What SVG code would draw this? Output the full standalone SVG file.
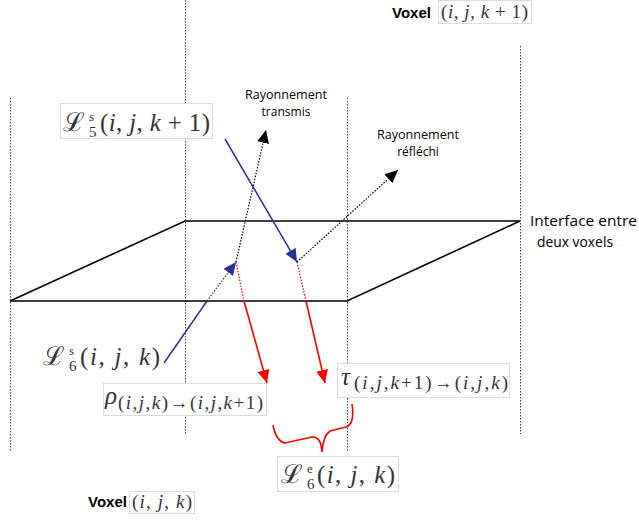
<svg xmlns="http://www.w3.org/2000/svg" width="639" height="522" viewBox="0 0 639 522">
<style>
.vline{stroke:#444;stroke-width:1;stroke-dasharray:1.5,1.5;fill:none}
.plane{stroke:#000;stroke-width:1.6;fill:none}
.blue{stroke:#2e3192;stroke-width:1.5;fill:none}
.bluedot{stroke:#2e3192;stroke-width:1.2;stroke-dasharray:1.5,1.5;fill:none}
.red{stroke:#ff0000;stroke-width:1.6;fill:none}
.reddot{stroke:#ff0000;stroke-width:1.2;stroke-dasharray:1.5,1.5;fill:none}
.blackdot{stroke:#000;stroke-width:1.2;stroke-dasharray:1.5,1.5;fill:none}
.box{fill:#fff;stroke:#dcdcdc;stroke-width:1}
.lbl{font-family:"Open Sans","Liberation Sans",sans-serif;fill:#000}
.vox{font-family:"Liberation Sans",Arial,sans-serif;font-weight:bold;fill:#000}
.math{font-family:"Liberation Serif","DejaVu Serif",serif;fill:#333;font-weight:normal}
.it{font-style:italic}
</style>
<defs>
<marker id="ahBlack" markerUnits="userSpaceOnUse" markerWidth="14" markerHeight="12" refX="13" refY="6" orient="auto"><path d="M0,0 L13,6 L0,12 z" fill="#000"/></marker>
<marker id="ahBlue" markerUnits="userSpaceOnUse" markerWidth="14" markerHeight="12" refX="13" refY="6" orient="auto"><path d="M0,0 L13,6 L0,12 z" fill="#2e3192"/></marker>
<marker id="ahRed" markerUnits="userSpaceOnUse" markerWidth="14" markerHeight="12" refX="13" refY="6" orient="auto"><path d="M0,0 L13,6 L0,12 z" fill="#ff0000"/></marker>
</defs>
<rect width="639" height="522" fill="#fff"/>

<g id="voxel-boundaries">
<line class="vline" x1="10.5" y1="98" x2="10.5" y2="452"/>
<line class="vline" x1="185.5" y1="0" x2="185.5" y2="434"/>
<line class="vline" x1="347.5" y1="98" x2="347.5" y2="452"/>
<line class="vline" x1="520.5" y1="46" x2="520.5" y2="434"/>
</g>

<g id="interface">
<path class="plane" d="M10,301 L185,221 L520,221 L347,301 Z"/>
<text class="lbl" font-size="14" x="530" y="226" textLength="107" lengthAdjust="spacingAndGlyphs">Interface entre</text>
<text class="lbl" font-size="14" x="537" y="247" textLength="76" lengthAdjust="spacingAndGlyphs">deux voxels</text>
</g>

<g id="connectors">
<line class="blue" x1="225" y1="139" x2="297" y2="262" marker-end="url(#ahBlue)"/>
<line class="blue" x1="164" y1="363" x2="207" y2="301"/>
<line class="bluedot" x1="207" y1="301" x2="236" y2="262" marker-end="url(#ahBlue)"/>
<line class="blackdot" x1="236" y1="262" x2="266" y2="130" marker-end="url(#ahBlack)"/>
<line class="blackdot" x1="297" y1="262" x2="398" y2="170" marker-end="url(#ahBlack)"/>
<line class="reddot" x1="236" y1="262" x2="244" y2="301"/>
<line class="red" x1="244" y1="301" x2="267" y2="383" marker-end="url(#ahRed)"/>
<line class="reddot" x1="297" y1="262" x2="306" y2="301"/>
<line class="red" x1="306" y1="301" x2="325" y2="383" marker-end="url(#ahRed)"/>
<path class="red" d="M273,425 Q276,441 285,443 L312,437 Q321,436 322,452 Q323,436 330,431 L346,427 Q355,424 352,404"/>
</g>

<g id="label-transmis">
<text class="lbl" font-size="12" x="286" y="99" text-anchor="middle" textLength="82" lengthAdjust="spacingAndGlyphs">Rayonnement</text>
<text class="lbl" font-size="12" x="286" y="116" text-anchor="middle">transmis</text>
</g>

<g id="label-reflechi">
<text class="lbl" font-size="12" x="418" y="139" text-anchor="middle" textLength="82" lengthAdjust="spacingAndGlyphs">Rayonnement</text>
<text class="lbl" font-size="12" x="418" y="156" text-anchor="middle">réfléchi</text>
</g>

<g id="voxel-top">
<text class="vox" font-size="15" x="392" y="18">Voxel</text>
<rect class="box" x="438.5" y="0.5" width="93" height="23"/>
<text class="math" font-size="19" x="441" y="18" textLength="87" lengthAdjust="spacing">(<tspan class="it">i</tspan>, <tspan class="it">j</tspan>, <tspan class="it">k</tspan> + 1)</text>
</g>

<g id="voxel-bottom">
<text class="vox" font-size="15" x="88" y="507">Voxel</text>
<rect class="box" x="129.5" y="491.5" width="65" height="22"/>
<text class="math" font-size="19" x="132" y="508" textLength="60" lengthAdjust="spacing">(<tspan class="it">i</tspan>, <tspan class="it">j</tspan>, <tspan class="it">k</tspan>)</text>
</g>

<g id="L5s">
<rect class="box" x="60.5" y="103.5" width="152" height="35"/>
<text class="math" font-size="26" x="63" y="131">ℒ</text>
<text class="math" font-size="13" x="89" y="121">s</text>
<text class="math" font-size="15" x="89" y="137">5</text>
<text class="math" font-size="25" x="100" y="131" textLength="110" lengthAdjust="spacing">(<tspan class="it">i</tspan>, <tspan class="it">j</tspan>, <tspan class="it">k</tspan> + 1)</text>
</g>

<g id="L6s">
<text class="math" font-size="26" x="43" y="365">ℒ</text>
<text class="math" font-size="13" x="69" y="355">s</text>
<text class="math" font-size="15" x="69" y="371">6</text>
<text class="math" font-size="25" x="80" y="365" textLength="80" lengthAdjust="spacing">(<tspan class="it">i</tspan>, <tspan class="it">j</tspan>, <tspan class="it">k</tspan>)</text>
</g>

<g id="rho">
<rect class="box" x="103.5" y="383.5" width="163" height="32"/>
<text class="math it" font-size="25" x="105" y="404">ρ</text>
<text class="math" font-size="19" x="118" y="409" textLength="145" lengthAdjust="spacing">(<tspan class="it">i</tspan>,<tspan class="it">j</tspan>,<tspan class="it">k</tspan>)→(<tspan class="it">i</tspan>,<tspan class="it">j</tspan>,<tspan class="it">k</tspan>+1)</text>
</g>

<g id="tau">
<rect class="box" x="337.5" y="363.5" width="172" height="34"/>
<text class="math it" font-size="25" x="341" y="385">τ</text>
<text class="math" font-size="19" x="354" y="389" textLength="154" lengthAdjust="spacing">(<tspan class="it">i</tspan>,<tspan class="it">j</tspan>,<tspan class="it">k</tspan>+1)→(<tspan class="it">i</tspan>,<tspan class="it">j</tspan>,<tspan class="it">k</tspan>)</text>
</g>

<g id="L6e">
<rect class="box" x="277.5" y="456.5" width="121" height="35"/>
<text class="math" font-size="26" x="281" y="483">ℒ</text>
<text class="math" font-size="13" x="307" y="473">e</text>
<text class="math" font-size="15" x="307" y="489">6</text>
<text class="math" font-size="25" x="317" y="483" textLength="78" lengthAdjust="spacing">(<tspan class="it">i</tspan>, <tspan class="it">j</tspan>, <tspan class="it">k</tspan>)</text>
</g>
</svg>
